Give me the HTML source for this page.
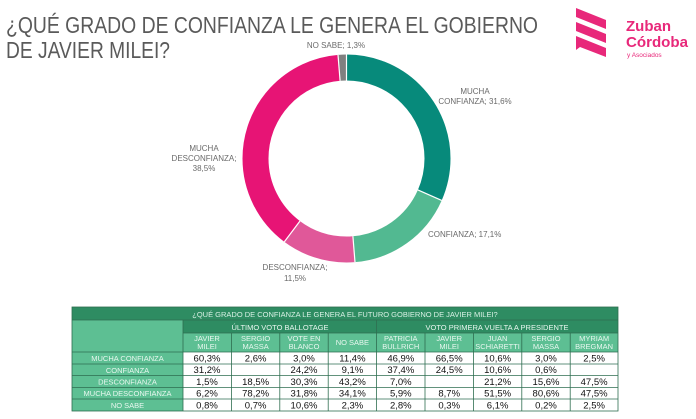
<!DOCTYPE html>
<html><head><meta charset="utf-8"><style>
html,body{margin:0;padding:0;background:#fff;}
svg{display:block;font-family:"Liberation Sans",sans-serif;}
</style></head><body>
<svg width="696" height="419" viewBox="0 0 696 419" xmlns="http://www.w3.org/2000/svg">
<rect width="696" height="419" fill="#fff"/>
<text x="6" y="33" font-size="23" fill="#5a5a5a" textLength="532" lengthAdjust="spacingAndGlyphs">¿QUÉ GRADO DE CONFIANZA LE GENERA EL GOBIERNO</text>
<text x="6" y="58" font-size="23" fill="#5a5a5a" textLength="164" lengthAdjust="spacingAndGlyphs">DE JAVIER MILEI?</text>
<g fill="#e8287a">
<polygon points="576,8 606,20 606,29 576,17"/>
<polygon points="576,22 606,34 606,43 576,31"/>
<polygon points="576,36 606,48 606,57 580,47 576,50"/>
</g>
<text x="626" y="31" font-size="15" font-weight="bold" fill="#e8287a">Zuban</text>
<text x="626" y="47" font-size="15" font-weight="bold" fill="#e8287a" textLength="62" lengthAdjust="spacingAndGlyphs">Córdoba</text>
<text x="627" y="57" font-size="6.5" fill="#e8287a">y Asociados</text>
<g transform="rotate(-90 346.5 158.5)" fill="none" stroke-width="26">
<circle cx="346.5" cy="158.5" r="91" stroke="#078a7b" stroke-dasharray="180.67 571.77" stroke-dashoffset="0"/>
<circle cx="346.5" cy="158.5" r="91" stroke="#52b991" stroke-dasharray="97.77 571.77" stroke-dashoffset="-180.67"/>
<circle cx="346.5" cy="158.5" r="91" stroke="#e05899" stroke-dasharray="65.75 571.77" stroke-dashoffset="-278.44"/>
<circle cx="346.5" cy="158.5" r="91" stroke="#e71475" stroke-dasharray="220.13 571.77" stroke-dashoffset="-344.19"/>
<circle cx="346.5" cy="158.5" r="91" stroke="#808080" stroke-dasharray="7.45 571.77" stroke-dashoffset="-564.32"/>
</g>
<g stroke="#fff" stroke-width="1.2">
<line x1="346.5" y1="54" x2="346.5" y2="81"/>
<line x1="417.9" y1="189.9" x2="441.7" y2="200.4"/>
<line x1="352.9" y1="236.2" x2="355" y2="262.1"/>
<line x1="299.9" y1="221.1" x2="284.3" y2="241.9"/>
<line x1="340.1" y1="80.8" x2="338" y2="54.9"/>
</g>
<g font-size="8" fill="#6a6a6a">
<text x="336" y="48" text-anchor="middle">NO SABE; 1,3%</text>
<text x="475" y="94" text-anchor="middle">MUCHA</text>
<text x="475" y="104" text-anchor="middle">CONFIANZA; 31,6%</text>
<text x="428" y="237">CONFIANZA; 17,1%</text>
<text x="295" y="270" text-anchor="middle">DESCONFIANZA;</text>
<text x="295" y="281" text-anchor="middle">11,5%</text>
<text x="204" y="151" text-anchor="middle">MUCHA</text>
<text x="204" y="161" text-anchor="middle">DESCONFIANZA;</text>
<text x="204" y="171" text-anchor="middle">38,5%</text>
</g>
<g>
<rect x="72" y="307" width="546" height="13" fill="#2e8c62"/>
<text x="345" y="317" font-size="7.5" fill="#d8f0e4" text-anchor="middle">¿QUÉ GRADO DE CONFIANZA LE GENERA EL FUTURO GOBIERNO DE JAVIER MILEI?</text>
<rect x="72" y="320" width="111" height="32" fill="#5dbf93"/>
<rect x="183" y="320" width="435" height="13" fill="#2e8c62"/>
<rect x="183" y="333" width="435" height="19" fill="#5dbf93"/>
<rect x="72" y="352" width="111" height="59" fill="#5dbf93"/>
<rect x="183" y="352" width="435" height="59" fill="#fff"/>
<g stroke="#2e6e50" stroke-width="0.8" fill="none">
<rect x="72" y="307" width="546" height="104"/>
<line x1="72" y1="320" x2="618" y2="320"/>
<line x1="183" y1="333" x2="618" y2="333"/>
<line x1="72" y1="352" x2="618" y2="352"/>
<line x1="72" y1="364" x2="618" y2="364"/>
<line x1="72" y1="375.5" x2="618" y2="375.5"/>
<line x1="72" y1="387.5" x2="618" y2="387.5"/>
<line x1="72" y1="399" x2="618" y2="399"/>
<line x1="183" y1="320" x2="183" y2="411"/>
<line x1="376.6" y1="320" x2="376.6" y2="411"/>
<line x1="231.4" y1="333" x2="231.4" y2="411"/>
<line x1="279.8" y1="333" x2="279.8" y2="411"/>
<line x1="328.2" y1="333" x2="328.2" y2="411"/>
<line x1="425" y1="333" x2="425" y2="411"/>
<line x1="473.4" y1="333" x2="473.4" y2="411"/>
<line x1="521.8" y1="333" x2="521.8" y2="411"/>
<line x1="570.2" y1="333" x2="570.2" y2="411"/>
</g>
<g font-size="7.5" fill="#e8f7ef" text-anchor="middle">
<text x="280" y="330">ÚLTIMO VOTO BALLOTAGE</text>
<text x="497" y="330">VOTO PRIMERA VUELTA A PRESIDENTE</text>
<text x="207" y="341">JAVIER</text><text x="207" y="349">MILEI</text>
<text x="255.6" y="341">SERGIO</text><text x="255.6" y="349">MASSA</text>
<text x="304" y="341">VOTE EN</text><text x="304" y="349">BLANCO</text>
<text x="352.4" y="345">NO SABE</text>
<text x="400.8" y="341">PATRICIA</text><text x="400.8" y="349">BULLRICH</text>
<text x="449.2" y="341">JAVIER</text><text x="449.2" y="349">MILEI</text>
<text x="497.6" y="341">JUAN</text><text x="497.6" y="349">SCHIARETTI</text>
<text x="546" y="341">SERGIO</text><text x="546" y="349">MASSA</text>
<text x="594.1" y="341">MYRIAM</text><text x="594.1" y="349">BREGMAN</text>
<text x="127.5" y="361">MUCHA CONFIANZA</text>
<text x="127.5" y="373">CONFIANZA</text>
<text x="127.5" y="384.5">DESCONFIANZA</text>
<text x="127.5" y="396">MUCHA DESCONFIANZA</text>
<text x="127.5" y="408">NO SABE</text>
</g>
<g font-size="9.5" fill="#111" text-anchor="middle">
<text x="207" y="361.5">60,3%</text><text x="255.6" y="361.5">2,6%</text><text x="304" y="361.5">3,0%</text><text x="352.4" y="361.5">11,4%</text><text x="400.8" y="361.5">46,9%</text><text x="449.2" y="361.5">66,5%</text><text x="497.6" y="361.5">10,6%</text><text x="546" y="361.5">3,0%</text><text x="594.1" y="361.5">2,5%</text>
<text x="207" y="373">31,2%</text><text x="304" y="373">24,2%</text><text x="352.4" y="373">9,1%</text><text x="400.8" y="373">37,4%</text><text x="449.2" y="373">24,5%</text><text x="497.6" y="373">10,6%</text><text x="546" y="373">0,6%</text>
<text x="207" y="385">1,5%</text><text x="255.6" y="385">18,5%</text><text x="304" y="385">30,3%</text><text x="352.4" y="385">43,2%</text><text x="400.8" y="385">7,0%</text><text x="497.6" y="385">21,2%</text><text x="546" y="385">15,6%</text><text x="594.1" y="385">47,5%</text>
<text x="207" y="396.5">6,2%</text><text x="255.6" y="396.5">78,2%</text><text x="304" y="396.5">31,8%</text><text x="352.4" y="396.5">34,1%</text><text x="400.8" y="396.5">5,9%</text><text x="449.2" y="396.5">8,7%</text><text x="497.6" y="396.5">51,5%</text><text x="546" y="396.5">80,6%</text><text x="594.1" y="396.5">47,5%</text>
<text x="207" y="408.5">0,8%</text><text x="255.6" y="408.5">0,7%</text><text x="304" y="408.5">10,6%</text><text x="352.4" y="408.5">2,3%</text><text x="400.8" y="408.5">2,8%</text><text x="449.2" y="408.5">0,3%</text><text x="497.6" y="408.5">6,1%</text><text x="546" y="408.5">0,2%</text><text x="594.1" y="408.5">2,5%</text>
</g>
</g>
</svg>
</body></html>
